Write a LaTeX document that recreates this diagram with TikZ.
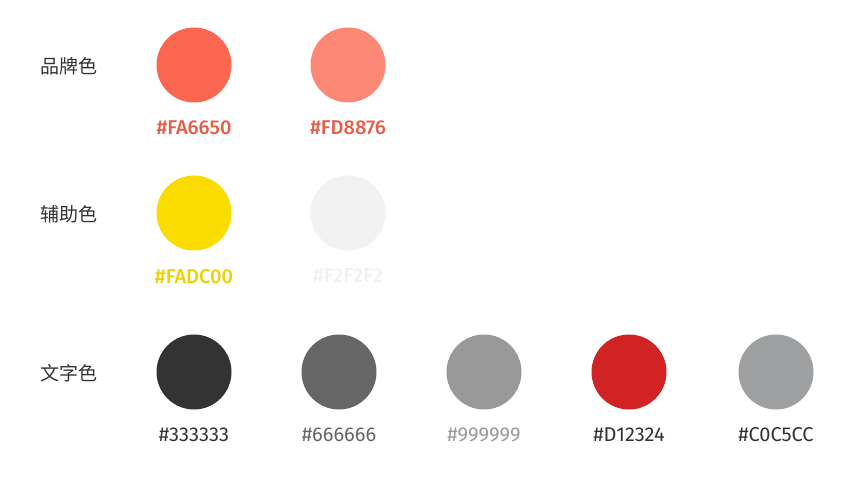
\documentclass[tikz,border=0pt]{standalone}
\usepackage{fontspec}
\usepackage{tikz}
\usetikzlibrary{positioning}
\newfontfamily\cjk{Noto Sans CJK SC}
\newfontfamily\hexfont{Fira Sans}
\newfontfamily\hexmed{Fira Sans Medium}
\definecolor{brandA}{HTML}{FA6650}
\definecolor{brandB}{HTML}{FD8876}
\definecolor{auxA}{HTML}{FADC00}
\definecolor{auxB}{HTML}{F2F2F2}
\definecolor{txtA}{HTML}{333333}
\definecolor{txtB}{HTML}{666666}
\definecolor{txtC}{HTML}{999999}
\definecolor{txtD}{HTML}{D12324}
\definecolor{txtE}{HTML}{9FA0A2}
\begin{document}
\begin{tikzpicture}[
      x=1pt,y=-1pt,
      swatch/.style={circle,minimum size=75pt,inner sep=0pt},
      rowname/.style={font=\cjk\fontsize{19}{19}\selectfont,text=txtA,
        inner sep=0pt},
      hexcode/.style={below=18pt of #1,inner sep=0pt},
      hexbold/.style={font=\hexmed\fontsize{20}{20}\selectfont},
      hexthin/.style={font=\hexfont\fontsize{20}{20}\selectfont}
    ]
    \useasboundingbox (0,0) rectangle (848,486);
    % row names
    \node[rowname] (brand) at (69,66) {品牌色};
    \node[rowname] (aux) at (69,214) {辅助色};
    \node[rowname] (txt) at (69,373) {文字色};
    % brand colours
    \node[swatch,fill=brandA] (cA) at (194,65) {};
    \node[swatch,fill=brandB] (cB) at (348,65) {};
    \node[hexcode=cA,hexbold,text=brandA!92!black] (hA) {\#FA6650};
    \node[hexcode=cB,hexbold,text=brandA!92!black] (hB) {\#FD8876};
    % auxiliary colours
    \node[swatch,fill=auxA] (cC) at (194,213) {};
    \node[swatch,fill=auxB] (cD) at (348,213) {};
    \node[hexcode=cC,hexbold,text=auxA!95!black] (hC) {\#FADC00};
    \node[hexcode=cD,hexbold,text=auxB] (hD) {\#F2F2F2};
    % text colours
    \node[swatch,fill=txtA] (cE) at (194,372) {};
    \node[swatch,fill=txtB] (cF) at (339,372) {};
    \node[swatch,fill=txtC] (cG) at (484,372) {};
    \node[swatch,fill=txtD] (cH) at (629,372) {};
    \node[swatch,fill=txtE] (cI) at (776,372) {};
    \node[hexcode=cE,hexthin,text=txtA] (hE) {\#333333};
    \node[hexcode=cF,hexthin,text=txtB] (hF) {\#666666};
    \node[hexcode=cG,hexthin,text=txtC] (hG) {\#999999};
    \node[hexcode=cH,hexthin,text=txtA] (hH) {\#D12324};
    \node[hexcode=cI,hexthin,text=txtA] (hI) {\#C0C5CC};
  \end{tikzpicture}
\end{document}
